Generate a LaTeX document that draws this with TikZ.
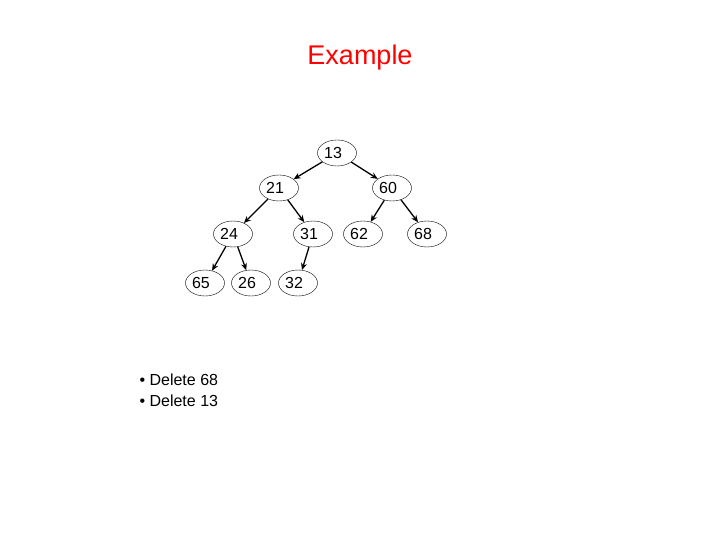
\documentclass[tikz,border=0pt]{standalone}
\usepackage{fontspec}
\setmainfont{Liberation Sans}
\usetikzlibrary{shapes.geometric,arrows.meta}
\begin{document}
\begin{tikzpicture}[x=1pt,y=-1pt,
  hn/.style={ellipse,draw,thin,minimum width=39pt,minimum height=26pt,inner sep=0pt},
  hl/.style={font=\fontsize{16}{18}\selectfont,anchor=center},
  ar/.style={-{Stealth[length=7pt,width=6pt]},line width=1.3pt}]
\useasboundingbox (0,0) rectangle (720,540);
\node[red,font=\fontsize{27}{30}\selectfont] (title) at (360,58) {Example};
\foreach \n/\x/\y in {13/337/153,21/279/188,60/392/188,24/233/234,31/313/234,62/363/234,68/427/234,65/205/283,26/251/283,32/298/283}{
  \node[hn] (n\n) at (\x,\y) {};
  \node[hl] (t\n) at (\x-4,\y) {\n};
}
\draw[ar] (n13) -- (n21);
\draw[ar] (n13) -- (n60);
\draw[ar] (n21) -- (n24);
\draw[ar] (n21) -- (n31);
\draw[ar] (n60) -- (n62);
\draw[ar] (n60) -- (n68);
\draw[ar] (n24) -- (n65);
\draw[ar] (n24) -- (n26);
\draw[ar] (n31) -- (n32);
\node[anchor=north west,align=left,font=\fontsize{16}{21}\selectfont] (txt) at (136,370) {• Delete 68\\• Delete 13};
\end{tikzpicture}
\end{document}
